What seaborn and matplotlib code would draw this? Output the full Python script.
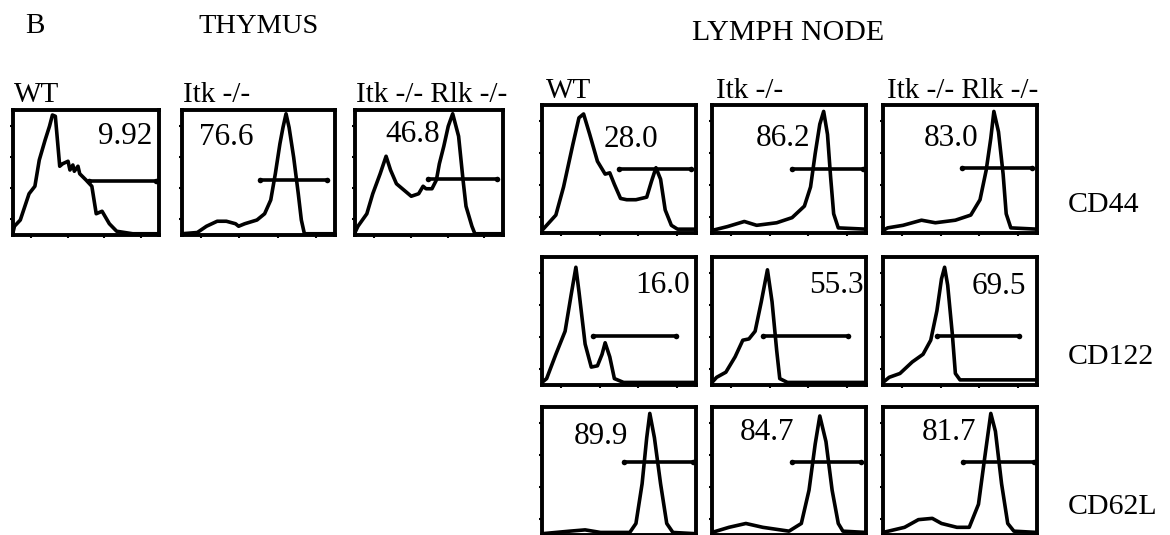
import matplotlib
matplotlib.use("Agg")
import matplotlib.pyplot as plt
import seaborn as sns

# ---- data (x and y are fractions of each panel) ----
groups = ["WT", "Itk -/-", "Itk -/- Rlk -/-"]
markers = ["CD44", "CD122", "CD62L"]

# thymus, CD44
thy_wt_x = [0.00, 0.01, 0.05, 0.11, 0.15, 0.18, 0.22, 0.25, 0.27, 0.29, 0.32, 0.34, 0.377,
            0.39, 0.41, 0.42, 0.445, 0.457, 0.50, 0.54, 0.57, 0.61, 0.66, 0.71, 0.82, 1.00]
thy_wt_y = [0.02, 0.07, 0.12, 0.33, 0.39, 0.60, 0.76, 0.87, 0.96, 0.95, 0.55, 0.57, 0.59,
            0.52, 0.56, 0.51, 0.55, 0.49, 0.44, 0.39, 0.17, 0.19, 0.09, 0.03, 0.01, 0.01]
thy_itk_x = [0.00, 0.10, 0.16, 0.23, 0.29, 0.35, 0.37, 0.41, 0.49, 0.54, 0.58, 0.61, 0.64,
             0.66, 0.68, 0.70, 0.73, 0.76, 0.78, 0.80, 1.00]
thy_itk_y = [0.01, 0.02, 0.07, 0.11, 0.11, 0.09, 0.07, 0.09, 0.12, 0.17, 0.28, 0.49, 0.73,
             0.86, 0.97, 0.86, 0.62, 0.33, 0.12, 0.01, 0.01]
thy_dko_x = [0.00, 0.02, 0.08, 0.12, 0.17, 0.21, 0.24, 0.28, 0.34, 0.38, 0.43, 0.46, 0.48,
             0.52, 0.55, 0.57, 0.60, 0.63, 0.66, 0.70, 0.73, 0.75, 0.79, 0.81, 1.00]
thy_dko_y = [0.02, 0.07, 0.17, 0.33, 0.49, 0.63, 0.52, 0.41, 0.35, 0.31, 0.33, 0.39, 0.37,
             0.37, 0.44, 0.57, 0.71, 0.87, 0.97, 0.79, 0.44, 0.23, 0.07, 0.01, 0.01]

# lymph node, CD44
cd44_wt_x = [0.00, 0.03, 0.09, 0.14, 0.20, 0.24, 0.27, 0.31, 0.36, 0.41, 0.44, 0.47, 0.51,
             0.55, 0.61, 0.68, 0.71, 0.74, 0.77, 0.80, 0.84, 0.88, 1.00]
cd44_wt_y = [0.02, 0.06, 0.14, 0.36, 0.69, 0.90, 0.93, 0.77, 0.56, 0.46, 0.47, 0.38, 0.27,
             0.26, 0.26, 0.28, 0.40, 0.51, 0.42, 0.18, 0.06, 0.03, 0.03]
cd44_itk_x = [0.00, 0.10, 0.21, 0.29, 0.42, 0.52, 0.60, 0.64, 0.67, 0.70, 0.725, 0.75, 0.77,
              0.79, 0.82, 1.00]
cd44_itk_y = [0.02, 0.05, 0.09, 0.06, 0.08, 0.12, 0.21, 0.36, 0.62, 0.85, 0.95, 0.77, 0.44,
              0.15, 0.04, 0.03]
cd44_dko_x = [0.00, 0.03, 0.13, 0.25, 0.34, 0.47, 0.57, 0.63, 0.67, 0.70, 0.72, 0.75, 0.78,
              0.80, 0.83, 1.00]
cd44_dko_y = [0.02, 0.04, 0.06, 0.10, 0.08, 0.10, 0.14, 0.26, 0.49, 0.74, 0.95, 0.79, 0.46,
              0.15, 0.04, 0.03]

# lymph node, CD122
cd122_wt_x = [0.00, 0.03, 0.09, 0.15, 0.19, 0.22, 0.24, 0.28, 0.32, 0.36, 0.39, 0.41, 0.44,
              0.47, 0.53, 1.00]
cd122_wt_y = [0.02, 0.05, 0.24, 0.42, 0.71, 0.92, 0.73, 0.32, 0.14, 0.15, 0.24, 0.33, 0.22,
              0.05, 0.02, 0.02]
cd122_itk_x = [0.00, 0.03, 0.09, 0.15, 0.20, 0.24, 0.28, 0.32, 0.36, 0.39, 0.42, 0.44, 0.49, 1.00]
cd122_itk_y = [0.02, 0.06, 0.10, 0.22, 0.35, 0.36, 0.42, 0.65, 0.90, 0.65, 0.27, 0.05, 0.02, 0.02]
cd122_dko_x = [0.00, 0.04, 0.11, 0.19, 0.26, 0.31, 0.35, 0.38, 0.40, 0.42, 0.45, 0.47, 0.50, 1.00]
cd122_dko_y = [0.02, 0.06, 0.09, 0.18, 0.24, 0.35, 0.58, 0.83, 0.92, 0.78, 0.40, 0.09, 0.04, 0.04]

# lymph node, CD62L
cd62l_wt_x = [0.00, 0.18, 0.28, 0.38, 0.57, 0.61, 0.65, 0.68, 0.70, 0.73, 0.77, 0.81, 0.85, 1.00]
cd62l_wt_y = [0.01, 0.03, 0.04, 0.02, 0.02, 0.09, 0.40, 0.76, 0.95, 0.76, 0.40, 0.09, 0.02, 0.01]
cd62l_itk_x = [0.00, 0.11, 0.22, 0.33, 0.50, 0.58, 0.63, 0.67, 0.70, 0.74, 0.78, 0.82, 0.85, 1.00]
cd62l_itk_y = [0.02, 0.06, 0.09, 0.06, 0.03, 0.09, 0.35, 0.71, 0.93, 0.73, 0.35, 0.09, 0.03, 0.02]
cd62l_dko_x = [0.00, 0.14, 0.23, 0.32, 0.38, 0.48, 0.56, 0.62, 0.66, 0.70, 0.73, 0.77, 0.81,
               0.85, 1.00]
cd62l_dko_y = [0.02, 0.06, 0.12, 0.13, 0.09, 0.06, 0.06, 0.24, 0.60, 0.95, 0.81, 0.40, 0.09,
               0.03, 0.02]

# gates as (level, start, end) and the percent in each gate
thy_gates = [(0.43, 0.52, 0.98), (0.44, 0.51, 0.95), (0.45, 0.49, 0.96)]
thy_pct = ["9.92", "76.6", "46.8"]
ln_gates = [[(0.50, 0.50, 0.97), (0.50, 0.52, 0.98), (0.51, 0.51, 0.97)],
            [(0.38, 0.33, 0.87), (0.38, 0.33, 0.88), (0.38, 0.35, 0.88)],
            [(0.57, 0.53, 0.98), (0.57, 0.52, 0.97), (0.57, 0.52, 0.98)]]
ln_pct = [["28.0", "86.2", "83.0"],
          ["16.0", "55.3", "69.5"],
          ["89.9", "84.7", "81.7"]]

# ---- layout (pixels) ----
W, H = 1170, 535
thy_left = [13, 182, 355]
thy_width = [146, 153, 148]
thy_top, thy_height = 110, 125
ln_left = [542, 712, 883]
ln_width = 154
ln_top = [105, 257, 407]
ln_height = 128
thy_label_pos = [(0.77, 0.79), (0.29, 0.78), (0.39, 0.80)]
ln_label_pos = [[(0.58, 0.73), (0.46, 0.74), (0.445, 0.74)],
                [(0.78, 0.78), (0.81, 0.78), (0.75, 0.77)],
                [(0.38, 0.77), (0.36, 0.80), (0.43, 0.80)]]

sns.set_style("white")
plt.rcParams["font.family"] = ["Liberation Serif", "DejaVu Serif"]
plt.rcParams["text.color"] = "black"

fig = plt.figure(figsize=(11.7, 5.35), dpi=100)


def px_axes(left, top, width, height):
    return fig.add_axes([left / W, 1 - (top + height) / H, width / W, height / H])


def px_text(x, y, s, size=21, **kw):
    fig.text(x / W, 1 - y / H, s, fontsize=size, va="baseline", color="black", **kw)


def draw_hist(ax, x, y, gate, pct, pos):
    sns.lineplot(x=x, y=y, ax=ax, color="black", linewidth=2.6,
                 estimator=None, sort=False)
    level, g0, g1 = gate
    sns.lineplot(x=[g0, g1], y=[level, level], ax=ax, color="black",
                 linewidth=2.6, marker="o", markersize=4, markeredgewidth=0,
                 estimator=None)
    ax.text(pos[0], pos[1], pct, ha="center", va="center", fontsize=22.5,
            color="black")
    ax.set_xlim(0, 1)
    ax.set_ylim(0, 1.0)
    ax.set_xlabel("")
    ax.set_ylabel("")
    ticks = [0.125, 0.375, 0.625, 0.875]
    ax.set_xticks(ticks)
    ax.set_yticks(ticks)
    ax.set_xticklabels([])
    ax.set_yticklabels([])
    ax.tick_params(direction="out", length=2.5, width=1.5, colors="black",
                   left=True, bottom=True)
    for sp in ax.spines.values():
        sp.set_visible(True)
        sp.set_color("black")
        sp.set_linewidth(2.8)


thy_curves = [(thy_wt_x, thy_wt_y), (thy_itk_x, thy_itk_y), (thy_dko_x, thy_dko_y)]
ln_curves = [[(cd44_wt_x, cd44_wt_y), (cd44_itk_x, cd44_itk_y), (cd44_dko_x, cd44_dko_y)],
             [(cd122_wt_x, cd122_wt_y), (cd122_itk_x, cd122_itk_y), (cd122_dko_x, cd122_dko_y)],
             [(cd62l_wt_x, cd62l_wt_y), (cd62l_itk_x, cd62l_itk_y), (cd62l_dko_x, cd62l_dko_y)]]

# thymus column
for j in range(3):
    ax = px_axes(thy_left[j], thy_top, thy_width[j], thy_height)
    draw_hist(ax, *thy_curves[j], thy_gates[j], thy_pct[j], thy_label_pos[j])
    px_text(thy_left[j] + 1, 102, groups[j])

# lymph node grid
for i in range(3):
    for j in range(3):
        ax = px_axes(ln_left[j], ln_top[i], ln_width, ln_height)
        draw_hist(ax, *ln_curves[i][j], ln_gates[i][j], ln_pct[i][j], ln_label_pos[i][j])
    px_text(1068, ln_top[i] + 107, markers[i], size=21.5)
for j in range(3):
    px_text(ln_left[j] + 4, 98, groups[j])

px_text(25, 33, "B", size=21)
px_text(198, 33, "THYMUS", size=20.5)
px_text(692, 40, "LYMPH NODE", size=21.5)

fig.savefig("out.png", dpi=100)
